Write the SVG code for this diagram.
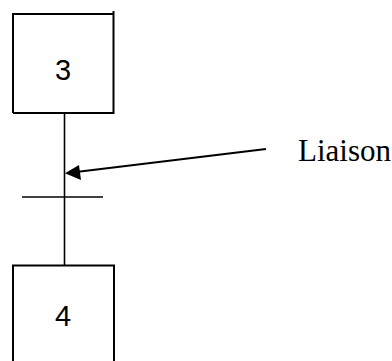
<svg xmlns="http://www.w3.org/2000/svg" width="392" height="361" viewBox="0 0 392 361">
  <style>
    .ln { stroke: #000; stroke-width: 2; fill: none; }
    .thin { stroke: #000; stroke-width: 1.6; fill: none; }
    .num { font-family: "Liberation Sans", Arial, sans-serif; font-size: 29px; fill: #000; text-anchor: middle; }
    .lbl { font-family: "Liberation Serif", "Times New Roman", serif; font-size: 31px; fill: #000; }
  </style>

  <!-- step 3 -->
  <g id="step3">
    <path class="ln" d="M13,113 L13,14 L113.5,14 M113.5,11 L113.5,113 L13,113"/>
    <text class="num" x="63" y="80">3</text>
  </g>

  <!-- step 4 (continues below the frame) -->
  <g id="step4">
    <path class="ln" d="M13,361 L13,265.5 L114,265.5 L114,361"/>
    <text class="num" x="63" y="326">4</text>
  </g>

  <!-- links, transition bar and annotation arrow -->
  <g id="connectors">
    <line class="thin" x1="64.5" y1="113" x2="64.5" y2="265"/>
    <line class="thin" x1="22" y1="197" x2="103" y2="197"/>
    <line class="ln" x1="266" y1="149" x2="70" y2="172.7"/>
    <path d="M65,173.3 L79,165 L81,180 Z" fill="#000"/>
  </g>

  <g id="label">
    <text class="lbl" x="298" y="161">Liaison</text>
  </g>
</svg>
